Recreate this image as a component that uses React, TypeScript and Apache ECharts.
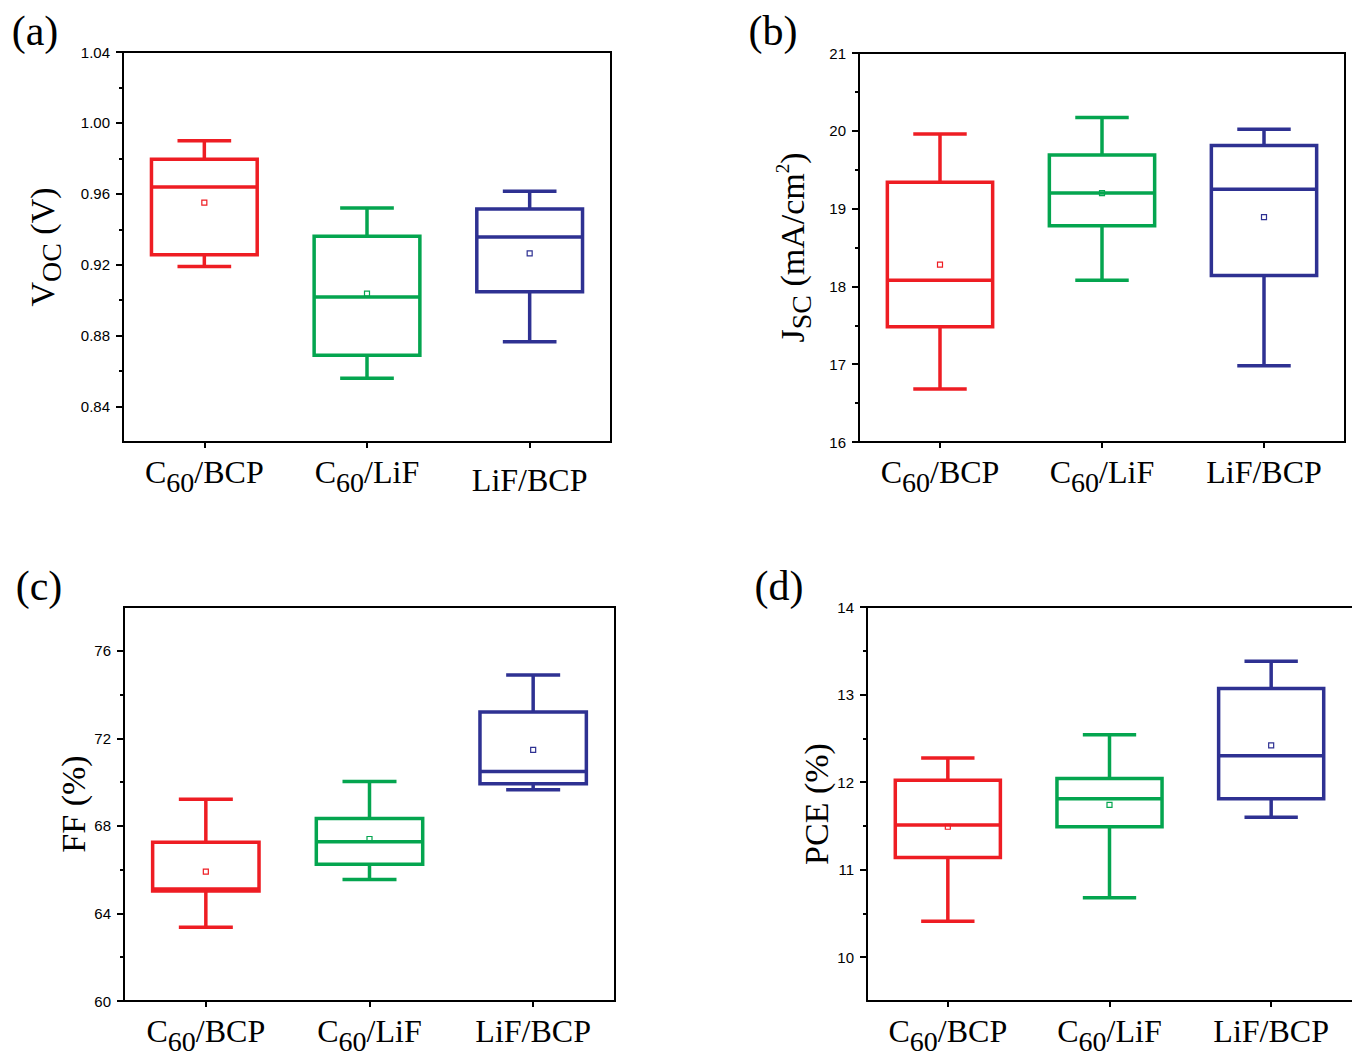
import React, { useEffect, useRef } from "react";
import * as echarts from "echarts";

// Categories
const groups = ["C60/BCP", "C60/LiF", "LiF/BCP"];
const groupColors = ["#EE1D23", "#04A54F", "#2E3192"];

// Box statistics per group: [min, Q1, median, Q3, max]
const vocBoxes = [
  [0.919, 0.9256, 0.9638, 0.9795, 0.99],
  [0.856, 0.869, 0.9018, 0.936, 0.952],
  [0.8766, 0.9048, 0.9356, 0.9514, 0.9615],
];
const vocMeans = [0.955, 0.9037, 0.9264];

const jscBoxes = [
  [16.68, 17.48, 18.08, 19.34, 19.96],
  [18.08, 18.78, 19.2, 19.69, 20.17],
  [16.98, 18.14, 19.25, 19.81, 20.02],
];
const jscMeans = [18.28, 19.2, 18.89];

const ffBoxes = [
  [63.37, 65.02, 65.12, 67.25, 69.22],
  [65.55, 66.25, 67.28, 68.34, 70.03],
  [69.65, 69.92, 70.49, 73.2, 74.89],
];
const ffMeans = [65.91, 67.4, 71.47];

const pceBoxes = [
  [10.41, 11.14, 11.51, 12.02, 12.275],
  [10.68, 11.49, 11.81, 12.04, 12.54],
  [11.6, 11.81, 12.3, 13.07, 13.38],
];
const pceMeans = [11.49, 11.74, 12.42];

// Axis ranges and ticks
const vocRange = [0.82, 1.04];
const vocTicks = [0.84, 0.88, 0.92, 0.96, 1.0, 1.04];
const vocMinorTicks = [0.86, 0.9, 0.94, 0.98, 1.02];

const jscRange = [16, 21];
const jscTicks = [16, 17, 18, 19, 20, 21];
const jscMinorTicks = [16.5, 17.5, 18.5, 19.5, 20.5];

const ffRange = [60, 78];
const ffTicks = [60, 64, 68, 72, 76];
const ffMinorTicks = [62, 66, 70, 74];

const pceRange = [9.5, 14];
const pceTicks = [10, 11, 12, 13, 14];
const pceMinorTicks = [10.5, 11.5, 12.5, 13.5];

const SERIF = "Liberation Serif";
const SANS = "Liberation Sans";

const panels = [
  {
    tag: "(a)", tagPos: [35, 31],
    grid: { left: 123, top: 52, width: 488, height: 390 },
    boxes: vocBoxes, means: vocMeans, range: vocRange, ticks: vocTicks, minor: vocMinorTicks,
    fmt: (v: number) => v.toFixed(2),
    name: "V{s|OC} (V)", nameGap: 58, lowLiF: true, openRight: false,
  },
  {
    tag: "(b)", tagPos: [773, 31],
    grid: { left: 859, top: 53, width: 486, height: 389 },
    boxes: jscBoxes, means: jscMeans, range: jscRange, ticks: jscTicks, minor: jscMinorTicks,
    fmt: (v: number) => String(Math.round(v)),
    name: "J{s|SC} (mA/cm{p|2})", nameGap: 44, lowLiF: false, openRight: false,
  },
  {
    tag: "(c)", tagPos: [39, 586],
    grid: { left: 124, top: 607, width: 491, height: 394 },
    boxes: ffBoxes, means: ffMeans, range: ffRange, ticks: ffTicks, minor: ffMinorTicks,
    fmt: (v: number) => String(Math.round(v)),
    name: "FF (%)", nameGap: 34, lowLiF: false, openRight: false,
  },
  {
    tag: "(d)", tagPos: [779, 586],
    grid: { left: 867, top: 607, width: 485, height: 394 },
    boxes: pceBoxes, means: pceMeans, range: pceRange, ticks: pceTicks, minor: pceMinorTicks,
    fmt: (v: number) => String(Math.round(v)),
    name: "PCE (%)", nameGap: 32, lowLiF: false, openRight: true,
  },
];

function catLabel(lowLiF: boolean) {
  return (v: string) => {
    if (v.startsWith("C60")) return "C{s|60}" + v.slice(3);
    return lowLiF ? "{d|" + v + "}" : v;
  };
}

function renderBox(params: any, api: any) {
  const idx = api.value(0);
  const lo = api.coord([idx, api.value(1)]);
  const q1 = api.coord([idx, api.value(2)]);
  const md = api.coord([idx, api.value(3)]);
  const q3 = api.coord([idx, api.value(4)]);
  const hi = api.coord([idx, api.value(5)]);
  const mn = api.coord([idx, api.value(6)]);
  const band = api.size([1, 0])[0];
  const cx = lo[0];
  const bw = band * 0.65;
  const cw = band * 0.33;
  const color = groupColors[idx];
  const ls = { stroke: color, lineWidth: 3.5, fill: "none" };
  return {
    type: "group",
    children: [
      { type: "line", shape: { x1: cx, y1: hi[1], x2: cx, y2: q3[1] }, style: ls },
      { type: "line", shape: { x1: cx, y1: q1[1], x2: cx, y2: lo[1] }, style: ls },
      { type: "line", shape: { x1: cx - cw / 2, y1: hi[1], x2: cx + cw / 2, y2: hi[1] }, style: ls },
      { type: "line", shape: { x1: cx - cw / 2, y1: lo[1], x2: cx + cw / 2, y2: lo[1] }, style: ls },
      {
        type: "rect",
        shape: { x: cx - bw / 2, y: q3[1], width: bw, height: q1[1] - q3[1] },
        style: { ...ls, lineJoin: "miter" },
      },
      { type: "line", shape: { x1: cx - bw / 2, y1: md[1], x2: cx + bw / 2, y2: md[1] }, style: ls },
      {
        type: "rect",
        shape: { x: mn[0] - 2.5, y: mn[1] - 2.5, width: 5, height: 5 },
        style: { stroke: color, lineWidth: 1.2, fill: "none" },
      },
    ],
  };
}

function buildOption() {
  const grid: any[] = [];
  const xAxis: any[] = [];
  const yAxis: any[] = [];
  const series: any[] = [];
  const graphic: any[] = [];

  panels.forEach((p, k) => {
    grid.push({
      ...p.grid,
      show: !p.openRight,
      borderColor: "#000",
      borderWidth: 2,
      backgroundColor: "transparent",
    });
    xAxis.push({
      type: "category",
      gridIndex: k,
      data: groups,
      boundaryGap: true,
      axisLine: { show: true, lineStyle: { color: "#000", width: 2 } },
      axisTick: { show: true, alignWithLabel: true, length: 6, lineStyle: { color: "#000", width: 2 } },
      splitLine: { show: false },
      axisLabel: {
        interval: 0,
        hideOverlap: false,
        margin: 10,
        color: "#000",
        fontFamily: SERIF,
        fontSize: 32,
        lineHeight: 40,
        formatter: catLabel(p.lowLiF),
        rich: {
          s: { fontFamily: SERIF, fontSize: 28, color: "#000", padding: [20, 0, 0, 0] },
          d: { fontFamily: SERIF, fontSize: 32, color: "#000", padding: [16, 0, 0, 0] },
        },
      },
    });
    yAxis.push({
      type: "value",
      gridIndex: k,
      min: p.range[0],
      max: p.range[1],
      axisLine: { show: true, lineStyle: { color: "#000", width: 2 } },
      axisTick: { show: true, length: 7, customValues: p.ticks, lineStyle: { color: "#000", width: 2 } },
      splitLine: { show: false },
      axisLabel: {
        customValues: p.ticks,
        margin: 13,
        color: "#000",
        fontFamily: SANS,
        fontSize: 15,
        formatter: p.fmt,
      },
      name: p.name,
      nameLocation: "middle",
      nameRotate: 90,
      nameGap: p.nameGap,
      nameTextStyle: {
        fontFamily: SERIF,
        fontSize: 34,
        color: "#000",
        rich: {
          s: { fontFamily: SERIF, fontSize: 28, color: "#000", padding: [18, 0, 0, 0] },
          p: { fontFamily: SERIF, fontSize: 19, color: "#000", padding: [0, 0, 20, 0] },
        },
      },
    });
    yAxis.push({
      type: "value",
      gridIndex: k,
      min: p.range[0],
      max: p.range[1],
      position: "left",
      axisLine: { show: false },
      axisTick: { show: true, length: 4, customValues: p.minor, lineStyle: { color: "#000", width: 2 } },
      axisLabel: { show: false },
      splitLine: { show: false },
    });
    series.push({
      type: "custom",
      xAxisIndex: k,
      yAxisIndex: 2 * k,
      clip: false,
      renderItem: renderBox,
      encode: { x: 0, y: [1, 2, 3, 4, 5, 6] },
      data: p.boxes.map((b, i) => [i, ...b, p.means[i]]),
    });
    graphic.push({
      type: "text",
      x: p.tagPos[0],
      y: p.tagPos[1],
      style: {
        text: p.tag,
        fontFamily: SERIF,
        fontSize: 42,
        fill: "#000",
        align: "center",
        verticalAlign: "middle",
      },
    });
  });

  // top frame line for the open-right panel (d)
  panels.forEach((p, k) => {
    if (!p.openRight) return;
    xAxis.push({
      type: "category",
      gridIndex: k,
      position: "top",
      data: groups,
      axisLine: { show: true, lineStyle: { color: "#000", width: 2 } },
      axisTick: { show: false },
      axisLabel: { show: false },
      splitLine: { show: false },
    });
  });

  return {
    animation: false,
    backgroundColor: "#fff",
    grid,
    xAxis,
    yAxis,
    series,
    graphic,
  };
}

export default function App() {
  const ref = useRef<HTMLDivElement>(null);
  useEffect(() => {
    if (!ref.current) return;
    const chart = echarts.init(ref.current, null, { renderer: "svg" });
    chart.setOption(buildOption() as any);
    return () => chart.dispose();
  }, []);
  return (
    <div
      ref={ref}
      style={{ position: "absolute", left: 0, top: 0, width: 1352, height: 1055, background: "#fff" }}
    />
  );
}
